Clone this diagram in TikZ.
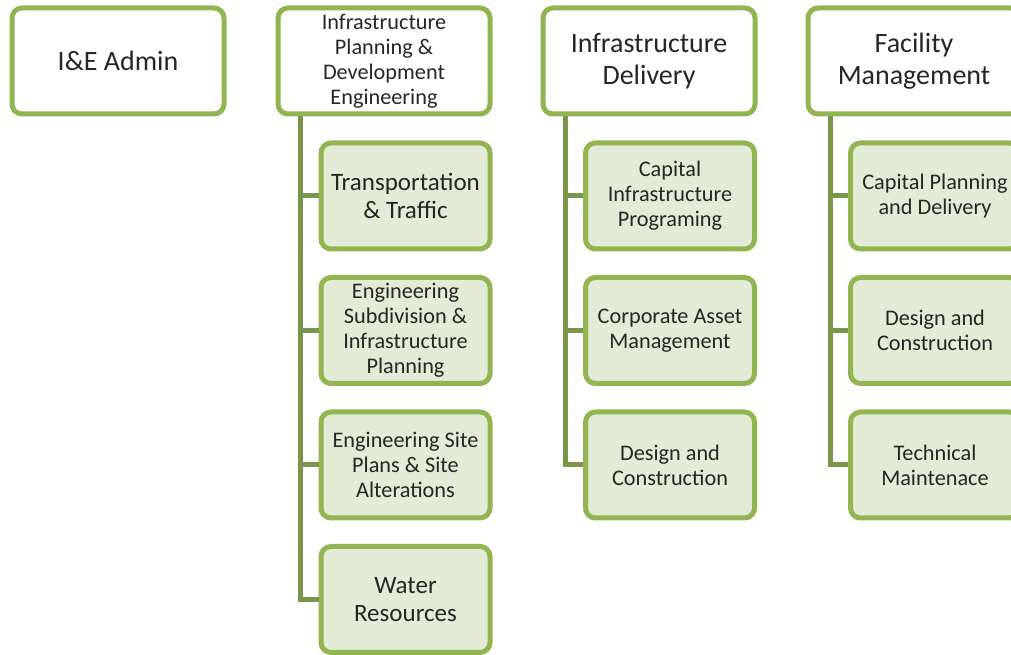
\documentclass[tikz,border=0pt]{standalone}
\usepackage{fontspec}
\setmainfont{Carlito}
\definecolor{boxgreen}{HTML}{92B451}
\definecolor{linkgreen}{HTML}{7A964A}
\definecolor{subfill}{HTML}{E3EAD6}
\definecolor{inktext}{HTML}{262626}
\tikzset{
  orgbox/.style={draw=boxgreen, line width=3.75pt, rounded corners=7.5pt,
    align=center, text=inktext, inner sep=2pt},
  headbox/.style={orgbox, fill=white, minimum width=159pt, minimum height=79.5pt},
  subbox/.style={orgbox, fill=subfill, minimum width=126.75pt, minimum height=79.5pt},
  bigtext/.style={font=\fontsize{21}{24}\selectfont},
  midtext/.style={font=\fontsize{18.75}{21}\selectfont},
  smalltext/.style={font=\fontsize{16.7}{18.75}\selectfont},
  link/.style={draw=linkgreen, line width=3.75pt}
}
\begin{document}
\begin{tikzpicture}[x=0.75pt, y=-0.75pt]
      \useasboundingbox (0,0) rectangle (1011,655);
      \clip (0,0) rectangle (1011,655);
      % top row
      \node[headbox,bigtext] (admin) at (118,61) {I\&E Admin};
      \node[headbox,smalltext] (ipde) at (384,61) {Infrastructure\\Planning \&\\Development\\Engineering};
      \node[headbox,bigtext] (delivery) at (649,61) {Infrastructure\\Delivery};
      \node[headbox,bigtext] (facility) at (914,61) {Facility\\Management};
      % planning & development units
      \node[subbox,midtext] (traffic) at (405.5,196) {Transportation\\\& Traffic};
      \node[subbox,smalltext] (subdiv) at (405.5,330.5) {Engineering\\Subdivision \&\\Infrastructure\\Planning};
      \node[subbox,smalltext] (siteplans) at (405.5,465) {Engineering Site\\Plans \& Site\\Alterations};
      \node[subbox,midtext] (water) at (405.5,599.5) {Water\\Resources};
      % delivery units
      \node[subbox,smalltext] (capinfra) at (670,196) {Capital\\Infrastructure\\Programing};
      \node[subbox,smalltext] (asset) at (670,330.5) {Corporate Asset\\Management};
      \node[subbox,smalltext] (design1) at (670,465) {Design and\\Construction};
      % facility units
      \node[subbox,smalltext] (capplan) at (935,196) {Capital Planning\\and Delivery};
      \node[subbox,smalltext] (design2) at (935,330.5) {Design and\\Construction};
      \node[subbox,smalltext] (maint) at (935,465) {Technical\\Maintenace};
      % trunks
      \coordinate (t1) at ([xshift=18.75pt]ipde.south west);
      \coordinate (t2) at ([xshift=18.75pt]delivery.south west);
      \coordinate (t3) at ([xshift=18.75pt]facility.south west);
      \begin{scope}[link]
        \draw (t1) |- (traffic.west);
        \draw (t1) |- (subdiv.west);
        \draw (t1) |- (siteplans.west);
        \draw (t1) |- (water.west);
        \draw (t2) |- (capinfra.west);
        \draw (t2) |- (asset.west);
        \draw (t2) |- (design1.west);
        \draw (t3) |- (capplan.west);
        \draw (t3) |- (design2.west);
        \draw (t3) |- (maint.west);
      \end{scope}
    \end{tikzpicture}
\end{document}
